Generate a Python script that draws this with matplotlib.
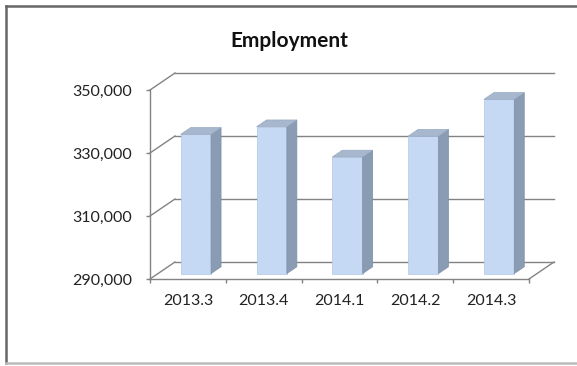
import matplotlib.pyplot as plt
from matplotlib.patches import Polygon
from matplotlib.lines import Line2D

quarters = ["2013.3", "2013.4", "2014.1", "2014.2", "2014.3"]
employment = [334200, 336600, 327000, 333600, 345300]
y_ticks = [290000, 310000, 330000, 350000]

W, H = 577, 366
fig = plt.figure(figsize=(W / 100, H / 100), dpi=100)
fig.patch.set_facecolor("white")

# front plane of the 3d box (pixels)
x0, x1 = 150, 529
ytop, ybot = 90, 279
ax = fig.add_axes([x0 / W, 1 - ybot / H, (x1 - x0) / W, (ybot - ytop) / H])
n = len(quarters)
ymin, ymax = y_ticks[0], y_ticks[-1]
ax.set_xlim(0, n)
ax.set_ylim(ymin, ymax)
ax.patch.set_alpha(0)

grid = "#838383"
for s in ["top", "right"]:
    ax.spines[s].set_visible(False)
for s in ["left", "bottom"]:
    ax.spines[s].set_color(grid)
    ax.spines[s].set_linewidth(1.0)

ax.set_yticks(y_ticks)
ax.set_yticklabels([f"{t:,}" for t in y_ticks])
ax.set_xticks(range(n + 1))
ax.set_xticklabels([])
ax.set_xticks([i + 0.5 for i in range(n)], minor=True)
ax.set_xticklabels(quarters, minor=True)
ax.tick_params(axis="y", direction="out", length=3, width=1, color=grid, pad=10,
               labelsize=11.5, labelcolor="#222222")
ax.tick_params(axis="x", which="major", direction="out", length=3, width=1, color=grid)
ax.tick_params(axis="x", which="minor", length=0, pad=11, labelsize=11.5, labelcolor="#222222")
for lab in ax.get_xticklabels(minor=True) + ax.get_yticklabels():
    lab.set_family("Lato")

# depth of the box in data units
DX = 25 / ((x1 - x0) / n)
DY = 17 * (ymax - ymin) / (ybot - ytop)

for t in y_ticks:
    ax.plot([DX, n + DX], [t + DY, t + DY], color=grid, lw=1.0, clip_on=False, zorder=1)
    ax.plot([0, DX], [t, t + DY], color=grid, lw=1.0, clip_on=False, zorder=1)
ax.plot([n, n + DX], [ymin, ymin + DY], color=grid, lw=1.0, clip_on=False, zorder=1)

# bars
f0, fd = 0.32, 0.4
bw = 0.4
xs = [i + 0.5 + f0 * DX for i in range(n)]
base = ymin + f0 * DY
ax.bar(xs, [v - ymin for v in employment], bottom=base, width=bw,
       color="#c6d9f4", edgecolor="#b4c6e2", linewidth=0.5, zorder=3, clip_on=False)
for x, v in zip(xs, employment):
    xl, xr = x - bw / 2, x + bw / 2
    top = v + f0 * DY
    side = [(xr, base), (xr + fd * DX, base + fd * DY),
            (xr + fd * DX, top + fd * DY), (xr, top)]
    ax.add_patch(Polygon(side, closed=True, facecolor="#8a9bb4", edgecolor="#7d8ea8",
                         lw=0.5, zorder=3, clip_on=False))
    lid = [(xl, top), (xr, top), (xr + fd * DX, top + fd * DY), (xl + fd * DX, top + fd * DY)]
    ax.add_patch(Polygon(lid, closed=True, facecolor="#a7b7cd", edgecolor="#98a9c2",
                         lw=0.5, zorder=3, clip_on=False))

fig.text(289 / W, 1 - 41 / H, "Employment", ha="center", va="center",
         fontsize=15, fontweight="bold", family="Lato", color="#111111")

# chart border
fig.add_artist(Line2D([6 / W, 1], [1 - 6 / H, 1 - 6 / H], color="#666666", lw=1.8))
fig.add_artist(Line2D([6 / W, 6 / W], [1 - 6 / H, 1 - 363 / H], color="#666666", lw=1.8))
fig.add_artist(Line2D([6 / W, 1], [1 - 363 / H, 1 - 363 / H], color="#bbbbbb", lw=1.8))

fig.savefig("out.png", dpi=100)
